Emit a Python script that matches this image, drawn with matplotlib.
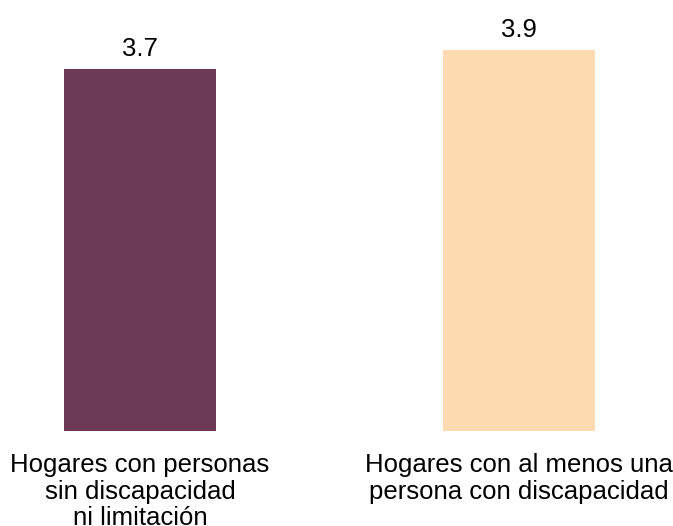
import matplotlib.pyplot as plt

plt.rcParams['font.family'] = ['Liberation Sans', 'DejaVu Sans']

# Data
categories = ['Hogares con personas\nsin discapacidad\nni limitación',
              'Hogares con al menos una\npersona con discapacidad']
values = [3.7, 3.9]
colors = ['#6d3a56', '#fddab0']

fig = plt.figure(figsize=(6.73, 5.26), dpi=100)
ax = fig.add_axes([0, 0.1806, 1, 0.8194])

x = list(range(len(categories)))
bars = ax.bar(x, values, width=0.40, color=colors)
ax.bar_label(bars, labels=[f'{v:.1f}' for v in values], padding=6, fontsize=18.5)

ax.set_xlim(-0.369, 1.406)
ax.set_ylim(0, 4.41)
ax.set_xticks(x)
ax.set_xticklabels(categories, fontsize=18.5, linespacing=1.13)
ax.tick_params(axis='x', length=0, pad=16)
ax.set_yticks([])
for s in ax.spines.values():
    s.set_visible(False)

plt.savefig('out.png', dpi=100)
